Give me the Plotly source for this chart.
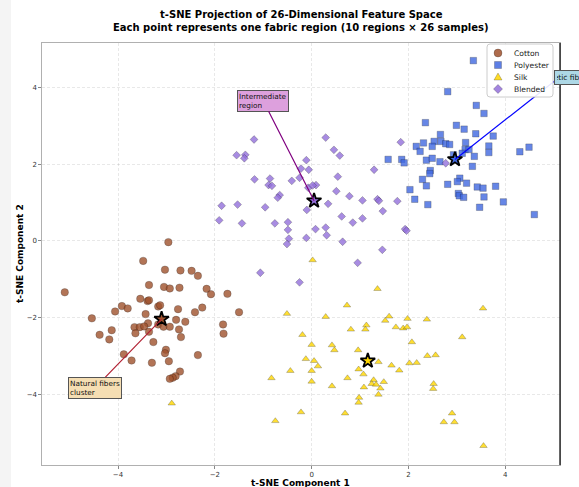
import plotly.graph_objects as go

TITLE_LINE1 = "t-SNE Projection of 26-Dimensional Feature Space"
TITLE_LINE2 = "Each point represents one fabric region (10 regions × 26 samples)"
X_LABEL = "t-SNE Component 1"
Y_LABEL = "t-SNE Component 2"
CLASSES = ["Cotton", "Polyester", "Silk", "Blended"]
TICKS = [-4, -2, 0, 2, 4]

COTTON_X = [-2.96, -3.48, -3.03, -2.71, -2.48, -2.35, -5.10, -3.36, -3.05, -2.93,
            -2.73, -2.17, -2.08, -1.74, -3.54, -3.39, -3.36, -3.92, -3.80, -4.06,
            -3.17, -3.13, -2.76, -2.26, -2.41, -1.50, -3.43, -4.54, -2.80, -2.61,
            -3.38, -3.66, -3.55, -3.46, -3.17, -3.06, -2.93, -1.83, -4.13, -3.64,
            -3.36, -2.74, -4.38, -1.82, -2.70, -4.18, -3.27, -3.01, -3.03, -3.88,
            -2.35, -3.72, -3.30, -2.95, -2.72, -2.81, -2.87, -2.93]
COTTON_Y = [-0.03, -0.52, -0.75, -0.77, -0.78, -0.91, -1.34, -1.15, -1.20, -1.24,
            -1.22, -1.25, -1.39, -1.38, -1.51, -1.57, -1.55, -1.70, -1.76, -1.84,
            -1.71, -1.68, -1.78, -1.74, -1.86, -1.86, -1.91, -2.02, -2.06, -2.11,
            -2.15, -2.25, -2.25, -2.23, -2.18, -2.24, -2.24, -2.18, -2.33, -2.41,
            -2.37, -2.31, -2.45, -2.42, -2.51, -2.57, -2.64, -2.84, -2.93, -2.96,
            -2.98, -3.12, -3.18, -3.14, -3.41, -3.53, -3.57, -3.60]

POLY_X = [2.81, 3.40, 3.56, 2.35, 2.99, 3.15, 3.39, 3.75, 2.66, 2.31,
          2.16, 2.53, 2.67, 2.77, 2.85, 2.49, 3.18, 3.17, 3.25, 3.66,
          3.66, 4.30, 4.49, 2.24, 3.11, 3.36, 1.58, 1.86, 1.91, 2.37,
          2.49, 2.65, 2.93, 3.32, 2.45, 2.44, 2.29, 2.37, 3.06, 3.01,
          3.20, 2.81, 3.42, 3.54, 3.80, 2.03, 3.03, 3.05, 3.14, 3.56,
          2.13, 2.40, 3.96, 3.47, 4.60, 3.34]
POLY_Y = [3.90, 3.54, 3.33, 3.09, 3.02, 2.92, 2.80, 2.74, 2.78, 2.56,
          2.47, 2.60, 2.60, 2.54, 2.52, 2.47, 2.57, 2.39, 2.39, 2.48,
          2.31, 2.33, 2.45, 2.34, 2.29, 2.21, 2.13, 2.13, 2.04, 2.11,
          2.16, 2.07, 2.25, 1.95, 1.84, 1.76, 1.61, 1.44, 1.64, 1.55,
          1.51, 1.48, 1.41, 1.38, 1.43, 1.34, 1.24, 1.18, 1.14, 1.15,
          1.09, 0.95, 1.02, 0.88, 0.69, 4.71]

SILK_X = [1.36, 0.73, -0.51, 0.29, 3.54, 1.60, 1.52, 1.98, 2.38, 1.13,
          1.11, 0.81, 1.74, 1.89, 1.97, -0.19, 0.00, 0.42, 0.47, 2.07,
          3.11, 0.96, -0.12, 0.05, 0.13, 0.00, -0.44, -0.83, 0.00, 0.42,
          0.74, 0.97, 1.07, 1.38, 1.65, 1.81, 2.02, 2.17, 2.39, 2.56,
          1.28, 1.24, 1.33, 1.49, 1.42, 1.08, 1.38, 2.52, 2.51, 0.98,
          0.97, -0.22, 0.69, -0.75, 2.90, 2.73, 2.95, 3.55, -2.89, 0.02]
SILK_Y = [-1.25, -1.68, -1.90, -1.98, -1.76, -1.97, -2.08, -2.03, -2.05, -2.20,
          -2.31, -2.31, -2.25, -2.28, -2.25, -2.45, -2.71, -2.72, -2.85, -2.64,
          -2.51, -2.85, -3.08, -3.13, -3.27, -3.39, -3.39, -3.58, -3.67, -3.79,
          -3.58, -3.35, -3.48, -3.16, -3.25, -3.38, -3.19, -3.18, -3.00, -2.98,
          -3.63, -3.73, -3.75, -3.68, -3.85, -3.82, -4.01, -3.73, -3.86, -4.09,
          -4.22, -4.47, -4.50, -4.70, -4.50, -4.73, -4.73, -5.35, -4.24, -0.50]

BLEND_X = [0.29, -1.19, 1.84, 0.46, 0.58, -1.55, -1.37, -1.39, -0.11, -0.22,
           -0.06, 1.29, -1.18, -0.86, -0.41, 0.54, -0.89, -0.82, -0.25, -0.07,
           0.09, 0.02, -0.66, -0.70, 0.51, 0.78, 1.05, 1.36, 1.39, 1.77,
           -1.86, -1.53, -0.96, 0.34, -0.10, 1.47, -1.91, -1.44, -0.76, -0.49,
           0.62, 0.85, 1.05, -0.49, 0.08, 0.29, 0.31, -0.11, 1.93, 1.96,
           -0.47, -0.51, 0.64, 1.46, 0.95, -1.06, -0.25, 2.77]
BLEND_Y = [2.70, 2.65, 2.58, 2.38, 2.23, 2.24, 2.25, 2.16, 2.11, 1.89,
           1.86, 1.86, 1.61, 1.63, 1.57, 1.68, 1.46, 1.44, 1.65, 1.39,
           1.46, 1.45, 1.20, 1.13, 1.30, 1.17, 1.06, 1.09, 1.05, 1.04,
           0.92, 0.95, 0.88, 0.97, 0.81, 0.78, 0.54, 0.46, 0.46, 0.49,
           0.64, 0.48, 0.59, 0.29, 0.31, 0.35, 0.15, 0.08, 0.31, 0.27,
           0.06, -0.08, -0.02, -0.23, -0.57, -0.83, -1.08, 2.03]

CENTROID_X = [-3.10, 2.96, 1.16, 0.05]
CENTROID_Y = [-2.04, 2.13, -3.13, 1.05]

ANNOT_TEXT = ["Natural fibers<br>cluster", "Intermediate<br>region"]
ANNOT_X = [-4.47, -1.00]
ANNOT_Y = [-3.83, 3.66]
ANNOT_TARGET = [0, 3]
SYN_TEXT = "Synthetic fibers"
SYN_BOX = (5.11, 4.27)

COLORS = ["#a0522d", "#4169e1", "#ffd700", "#9370db"]
SYMBOLS = ["circle", "square", "triangle-up", "diamond"]
SIZES = [7.5, 6.5, 6.5, 6]
BOX_FILL = ["#f5deb3", "#dda0dd"]
LINE_COL = ["#b22234", "#800080"]

W, H = 579, 487
L, R, T, B = 42, 19, 43, 22
PW, PH = W - L - R, H - T - B
FONT = "DejaVu Sans"


def px(x):
    return (x - L) / PW


def py(y):
    return 1 - (y - T) / PH


fig = go.Figure()
DATA = [(COTTON_X, COTTON_Y), (POLY_X, POLY_Y), (SILK_X, SILK_Y), (BLEND_X, BLEND_Y)]
for i, (xs, ys) in enumerate(DATA):
    fig.add_trace(go.Scatter(
        x=xs, y=ys, mode="markers", name=CLASSES[i], showlegend=False,
        marker=dict(symbol=SYMBOLS[i], size=SIZES[i], color=COLORS[i], opacity=0.8,
                    line=dict(color="rgba(0,0,0,0.55)", width=0.5)),
        hoverinfo="skip"))

fig.add_trace(go.Scatter(
    x=CENTROID_X, y=CENTROID_Y, mode="markers", showlegend=False,
    marker=dict(symbol="star", size=11, color=COLORS, line=dict(color="black", width=1.8)),
    hoverinfo="skip"))

shapes = []
# left gray strip of the page
shapes.append(dict(type="rect", xref="paper", yref="paper", x0=px(-5), x1=px(11),
                   y0=py(H + 5), y1=py(-5), fillcolor="#f4f4f4", line=dict(width=0),
                   layer="below"))
# right spine (dark)
shapes.append(dict(type="line", xref="paper", yref="paper", x0=1, x1=1, y0=0, y1=1,
                   line=dict(color="black", width=1.2)))
# synthetic arrow line
shapes.append(dict(type="line", xref="x", yref="y", x0=CENTROID_X[1], y0=CENTROID_Y[1],
                   x1=SYN_BOX[0], y1=SYN_BOX[1], line=dict(color="blue", width=1.2),
                   layer="above"))


def rrect(x0, y0, x1, y1, r):
    return (f"M{px(x0 + r)},{py(y0)} L{px(x1 - r)},{py(y0)} Q{px(x1)},{py(y0)} {px(x1)},{py(y0 + r)} "
            f"L{px(x1)},{py(y1 - r)} Q{px(x1)},{py(y1)} {px(x1 - r)},{py(y1)} "
            f"L{px(x0 + r)},{py(y1)} Q{px(x0)},{py(y1)} {px(x0)},{py(y1 - r)} "
            f"L{px(x0)},{py(y0 + r)} Q{px(x0)},{py(y0)} {px(x0 + r)},{py(y0)} Z")


# legend box
shapes.append(dict(type="path", xref="paper", yref="paper", path=rrect(487, 44, 553, 97, 3),
                   fillcolor="rgba(255,255,255,0.9)", line=dict(color="#cccccc", width=1),
                   layer="above"))
LEG_ROWS = [53, 65, 77, 89]
MX = 498
edge = dict(color="rgba(0,0,0,0.5)", width=0.5)
for i, yy in enumerate(LEG_ROWS):
    c = COLORS[i]
    if i == 0:
        shapes.append(dict(type="circle", xref="paper", yref="paper", x0=px(MX - 4), x1=px(MX + 4),
                           y0=py(yy + 4), y1=py(yy - 4), fillcolor=c, opacity=0.85, line=edge, layer="above"))
    elif i == 1:
        shapes.append(dict(type="rect", xref="paper", yref="paper", x0=px(MX - 3.5), x1=px(MX + 3.5),
                           y0=py(yy + 3.5), y1=py(yy - 3.5), fillcolor=c, opacity=0.85, line=edge, layer="above"))
    elif i == 2:
        path = f"M{px(MX)},{py(yy - 4)} L{px(MX + 4)},{py(yy + 3)} L{px(MX - 4)},{py(yy + 3)} Z"
        shapes.append(dict(type="path", xref="paper", yref="paper", path=path, fillcolor=c,
                           opacity=0.85, line=edge, layer="above"))
    else:
        path = (f"M{px(MX)},{py(yy - 4.5)} L{px(MX + 4.5)},{py(yy)} L{px(MX)},{py(yy + 4.5)} "
                f"L{px(MX - 4.5)},{py(yy)} Z")
        shapes.append(dict(type="path", xref="paper", yref="paper", path=path, fillcolor=c,
                           opacity=0.85, line=edge, layer="above"))

annotations = []
for k in range(len(ANNOT_TEXT)):
    t = ANNOT_TARGET[k]
    annotations.append(dict(
        x=CENTROID_X[t], y=CENTROID_Y[t], xref="x", yref="y",
        ax=ANNOT_X[k], ay=ANNOT_Y[k], axref="x", ayref="y",
        text=ANNOT_TEXT[k], showarrow=True, arrowhead=0, arrowwidth=1.2,
        arrowcolor=LINE_COL[k], align="left", bgcolor=BOX_FILL[k],
        bordercolor="#555555", borderwidth=1, borderpad=1,
        font=dict(family=FONT, size=7.3, color="#111")))

annotations.append(dict(
    x=px(554), y=py(77.5), xref="paper", yref="paper", xanchor="left", yanchor="middle",
    text=SYN_TEXT, showarrow=False, width=34, align="right", bgcolor="#add8e6",
    bordercolor="#555555", borderwidth=1, borderpad=2,
    font=dict(family=FONT, size=7.5, color="#111")))

for i, yy in enumerate(LEG_ROWS):
    annotations.append(dict(x=px(512), y=py(yy), xref="paper", yref="paper", xanchor="left",
                            yanchor="middle", text=CLASSES[i], showarrow=False,
                            font=dict(family=FONT, size=7.6, color="#222")))

annotations.append(dict(x=px(301), y=py(15), xref="paper", yref="paper", xanchor="center",
                        yanchor="middle", text=f"<b>{TITLE_LINE1}</b>", showarrow=False,
                        font=dict(family=FONT, size=10, color="black")))
annotations.append(dict(x=px(301), y=py(27), xref="paper", yref="paper", xanchor="center",
                        yanchor="middle", text=f"<b>{TITLE_LINE2}</b>", showarrow=False,
                        font=dict(family=FONT, size=10, color="black")))
annotations.append(dict(x=px(300), y=py(483), xref="paper", yref="paper", xanchor="center",
                        yanchor="middle", text=f"<b>{X_LABEL}</b>", showarrow=False,
                        font=dict(family=FONT, size=9, color="black")))
annotations.append(dict(x=px(20), y=py(254), xref="paper", yref="paper", xanchor="center",
                        yanchor="middle", text=f"<b>{Y_LABEL}</b>", showarrow=False, textangle=-90,
                        font=dict(family=FONT, size=9, color="black")))

axis_common = dict(
    showgrid=True, gridcolor="rgba(0,0,0,0.09)", griddash="3px,2px", gridwidth=0.7,
    zeroline=False, showline=True, linecolor="#b0b0b0", linewidth=1.2, mirror=True,
    ticks="outside", ticklen=2.5, tickcolor="#888", tickwidth=0.8,
    tickfont=dict(family=FONT, size=7, color="#333"), tickvals=TICKS,
)
fig.update_layout(
    width=W, height=H, margin=dict(l=L, r=R, t=T, b=B, autoexpand=False),
    paper_bgcolor="white", plot_bgcolor="white",
    xaxis=dict(range=[-5.57, 5.13], **axis_common),
    yaxis=dict(range=[-5.85, 5.17], **axis_common),
    shapes=shapes, annotations=annotations, showlegend=False,
    font=dict(family=FONT), hovermode=False,
)
fig.write_html("out.html", config={"displayModeBar": False},
               post_script="document.body.style.margin='0';document.body.style.overflow='hidden';")
